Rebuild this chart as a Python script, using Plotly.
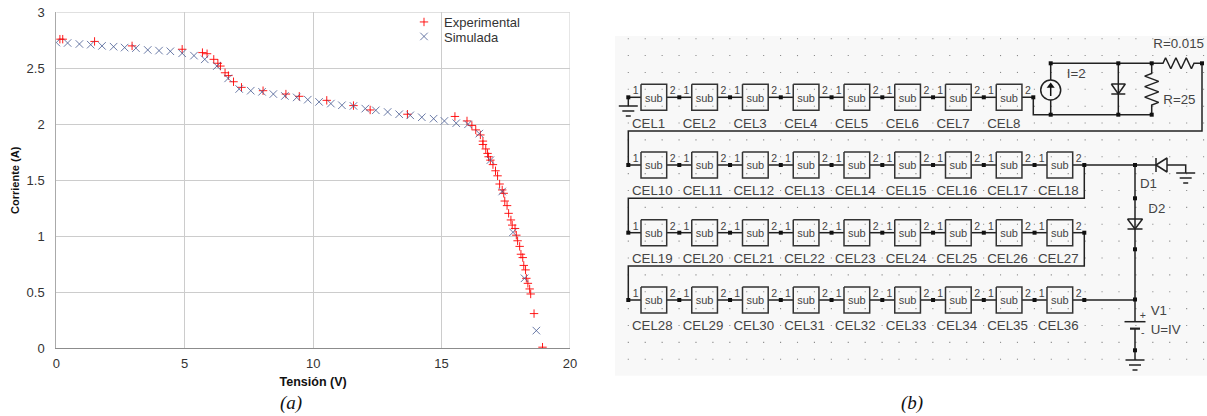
import plotly.graph_objects as go

W, H = 1207, 416

# ---------------- chart (a) data ----------------
exp_v = [0.14,0.25,1.49,2.95,4.90,5.69,5.87,6.13,6.29,6.39,6.57,6.70,6.90,7.21,8.05,8.94,9.46,
         10.53,11.57,12.22,13.67,15.52,15.99,16.18,16.33,16.51,16.61,16.61,16.72,16.79,16.83,16.90,
         17.00,17.10,17.18,17.26,17.36,17.42,17.46,17.55,17.61,17.70,17.75,17.86,17.91,17.96,18.04,
         18.09,18.16,18.20,18.27,18.30,18.36,18.43,18.47,18.60,18.93]
exp_i = [2.76,2.76,2.74,2.70,2.67,2.64,2.63,2.58,2.545,2.52,2.46,2.435,2.38,2.33,2.30,2.27,2.25,
         2.214,2.167,2.128,2.09,2.07,2.03,1.99,1.95,1.905,1.85,1.82,1.78,1.74,1.71,1.68,
         1.64,1.585,1.54,1.467,1.414,1.384,1.315,1.274,1.205,1.146,1.10,1.07,1.01,0.96,0.91,
         0.84,0.81,0.74,0.70,0.625,0.58,0.53,0.485,0.31,0.01]
sim_v = [0,0.44,0.90,1.34,1.78,2.23,2.66,3.10,3.56,4.00,4.44,4.90,5.36,5.78,6.25,6.69,7.12,7.57,8.01,8.45,8.90,
         9.36,9.79,10.23,10.69,11.12,11.57,12.03,12.44,12.90,13.35,13.78,14.23,14.69,15.11,15.57,16.03,16.47,
         16.90,17.36,17.78,18.23,18.69]
sim_i = [2.73,2.726,2.717,2.711,2.70,2.693,2.685,2.68,2.664,2.658,2.652,2.634,2.613,2.58,2.52,2.41,2.315,2.30,2.29,2.27,2.253,
         2.24,2.22,2.20,2.185,2.17,2.164,2.14,2.125,2.11,2.09,2.08,2.063,2.05,2.03,2.01,2.0,1.917,
         1.68,1.40,1.036,0.625,0.158]
x_ticks = [0, 5, 10, 15, 20]
y_ticks = [0, 0.5, 1, 1.5, 2, 2.5, 3]
y_labels = ["0", "0.5", "1", "1.5", "2", "2.5", "3"]

# ---------------- circuit (b) labels ----------------
row_cells = [list(range(1, 9)), list(range(10, 19)), list(range(19, 28)), list(range(28, 37))]

FONT = "Liberation Sans"
TXT = "#444444"

fig = go.Figure()

fig.add_trace(go.Scatter(x=exp_v, y=exp_i, mode="markers", name="Experimental", xaxis="x", yaxis="y", legend="legend",
    marker=dict(symbol="cross-thin", size=6, line=dict(color="rgba(255,0,0,0.9)", width=1)), hoverinfo="skip"))
fig.add_trace(go.Scatter(x=sim_v, y=sim_i, mode="markers", name="Simulada", xaxis="x", yaxis="y", legend="legend2",
    marker=dict(symbol="x-thin", size=7.5, line=dict(color="rgba(70,90,145,0.8)", width=1)), hoverinfo="skip"))

# ---------------- circuit geometry (diagram coordinates) ----------------
ROW_Y = [97.3, 165.0, 232.7, 300.0]
BOX_X0, BOX_DX, BOX_W, BOX_H = 641.0, 50.75, 25.7, 26.0
LEFT_X, END_X, MAIN_X = 628.3, 1084.3, 1135.0

wx, wy, nx, ny = [], [], [], []
def wire(*pts):
    for p in pts:
        wx.append(p[0]); wy.append(p[1])
    wx.append(None); wy.append(None)
def node(*pts):
    for p in pts:
        nx.append(p[0]); ny.append(p[1])
def ground(x, y, w=(9.5, 6, 2.5), dy=(0, 5, 10)):
    for a, b in zip(w, dy):
        wire((x - a, y + b), (x + a, y + b))
def zigzag_v(x, y0, y1, a, n=6):
    pts = [(x, y0)]
    step = (y1 - y0) / n
    for k in range(n):
        pts.append((x + (a if k % 2 else -a), y0 + step * (k + 0.5)))
    pts.append((x, y1))
    return pts
def zigzag_h(y, x0, x1, a, n=6):
    pts = [(x0, y)]
    step = (x1 - x0) / n
    for k in range(n):
        pts.append((x0 + step * (k + 0.5), y + (-a if k % 2 == 0 else a)))
    pts.append((x1, y))
    return pts

sub_x, sub_y, sub_t = [], [], []
pin_x, pin_y, pin_t = [], [], []
cel_x, cel_y, cel_t = [], [], []
bx, by = [], []
for r, cells in enumerate(row_cells):
    y = ROW_Y[r]
    wire((LEFT_X, y), (BOX_X0, y))
    node((LEFT_X, y))
    for k, c in enumerate(cells):
        x0 = BOX_X0 + k * BOX_DX
        x1 = x0 + BOX_W
        bx += [x0, x1, x1, x0, x0, None]
        by += [y - BOX_H/2, y - BOX_H/2, y + BOX_H/2, y + BOX_H/2, y - BOX_H/2, None]
        sub_x.append((x0 + x1) / 2); sub_y.append(y + 1.5); sub_t.append("sub")
        pin_x += [x0 - 5.3, x1 + 6]; pin_y += [y - 5.5, y - 5.5]; pin_t += ["1", "2"]
        cel_x.append(x0 - 9); cel_y.append(y + 27); cel_t.append(f"CEL{c}")
        if k < len(cells) - 1:
            wire((x1, y), (x1 + 25, y))
            node((x1 + 12.6, y))

# row 1 end and PV cell model
T, B = 63.3, 114.7
SRC_X, DIO_X, RES_X, OUT_X = 1050.7, 1118.3, 1151.7, 1202.0
row1_end = BOX_X0 + 7 * BOX_DX + BOX_W
wire((row1_end, ROW_Y[0]), (1033.3, ROW_Y[0]), (1033.3, B), (RES_X, B))
wire((SRC_X, T), (RES_X, T))
wire((SRC_X, T), (SRC_X, B))
wire((DIO_X, T), (DIO_X, B))
wire((DIO_X - 7, 84), (DIO_X + 7, 84), (DIO_X, 94), (DIO_X - 7, 84))
wire((DIO_X - 7, 94), (DIO_X + 7, 94))
wire(*zigzag_v(RES_X, T, 73.5, 0), *zigzag_v(RES_X, 73.5, 105, 7), (RES_X, B))
wire((RES_X, T), *zigzag_h(T, 1163, 1194, 5.5), (OUT_X, T), (OUT_X, 131), (LEFT_X, 131), (LEFT_X, ROW_Y[1]))
node((1033.3, ROW_Y[0]), (SRC_X, T), (DIO_X, T), (RES_X, T), (OUT_X, T), (SRC_X, B), (DIO_X, B), (RES_X, B))

# rows: tails and wraps
row_last = BOX_X0 + 8 * BOX_DX + BOX_W
for r in (1, 2, 3):
    wire((row_last, ROW_Y[r]), (END_X, ROW_Y[r]))
    node((END_X, ROW_Y[r]))
wire((END_X, ROW_Y[1]), (END_X, 198.3), (LEFT_X, 198.3), (LEFT_X, ROW_Y[2]))
wire((END_X, ROW_Y[2]), (END_X, 266), (LEFT_X, 266), (LEFT_X, ROW_Y[3]))
wire((END_X, ROW_Y[1]), (1156, ROW_Y[1]))
wire((END_X, ROW_Y[3]), (MAIN_X, ROW_Y[3]))

# D1 + ground
wire((1156, 158), (1156, 172))
wire((1156, 165), (1167, 158), (1167, 172), (1156, 165))
wire((1167, 165), (1185.7, 165), (1185.7, 173))
ground(1185.7, 173)
# main vertical with D2, battery, ground
wire((MAIN_X, 165), (MAIN_X, 321.7))
wire((MAIN_X - 7.5, 219), (MAIN_X + 7.5, 219), (MAIN_X, 229), (MAIN_X - 7.5, 219))
wire((MAIN_X - 7.5, 229), (MAIN_X + 7.5, 229))
wire((MAIN_X - 10.5, 321.7), (MAIN_X + 10.5, 321.7))
wire((MAIN_X - 5, 328.3), (MAIN_X + 5, 328.3))
wire((MAIN_X - 5, 329), (MAIN_X + 5, 329))
wire((MAIN_X, 328.3), (MAIN_X, 360))
ground(MAIN_X, 360)
node((MAIN_X, 165), (MAIN_X, 198.3), (MAIN_X, 249.3), (MAIN_X, 299.5), (MAIN_X, 350.3))
# left ground on row 1
wire((LEFT_X, ROW_Y[0]), (LEFT_X, 106))
ground(LEFT_X, 106)

# grid dots of the schematic
dx = [628.3 + 16.92 * i for i in range(35) for j in range(20)]
dy = [38.7 + 16.87 * j for i in range(35) for j in range(20)]

AX2 = dict(xaxis="x2", yaxis="y2", hoverinfo="skip", showlegend=False)
fig.add_trace(go.Scatter(x=dx, y=dy, mode="markers", marker=dict(symbol="square", size=1.1, color="#8a8a8a"), **AX2))
fig.add_trace(go.Scatter(x=wx, y=wy, mode="lines", line=dict(color="#222222", width=1.5), **AX2))
fig.add_trace(go.Scatter(x=bx, y=by, mode="lines", line=dict(color="#333333", width=1.5), **AX2))
fig.add_trace(go.Scatter(x=nx, y=ny, mode="markers", marker=dict(symbol="square", size=4, color="#111111"), **AX2))
# current source
fig.add_trace(go.Scatter(x=[SRC_X], y=[90], mode="markers",
    marker=dict(symbol="circle", size=20, color="#f8f8f8", line=dict(color="#222222", width=1.5)), **AX2))
fig.add_trace(go.Scatter(x=[SRC_X, SRC_X, None], y=[85, 96, None], mode="lines", line=dict(color="#111111", width=1.5), **AX2))
fig.add_trace(go.Scatter(x=[SRC_X], y=[86], mode="markers", marker=dict(symbol="triangle-up", size=7, color="#111111"), **AX2))

def texts(xs, ys, ts, size, pos="middle center"):
    fig.add_trace(go.Scatter(x=xs, y=ys, text=ts, mode="text", textposition=pos,
        textfont=dict(family=FONT, size=size, color=TXT), **AX2))
texts(sub_x, sub_y, sub_t, 11)
texts(pin_x, pin_y, pin_t, 10.5)
texts(cel_x, cel_y, cel_t, 13.3, "middle right")
texts([1066.7, 1153.3, 1163.3, 1140, 1148.3, 1150.7, 1150.7],
      [75, 45, 100.7, 185, 210, 311.7, 330.7],
      ["I=2", "R=0.015", "R=25", "D1", "D2", "V1", "U=IV"], 13.3, "middle right")
texts([1142.7, 1142.7], [316, 333], ["+", "-"], 10.5)

LEG = dict(xanchor="left", yanchor="middle", bgcolor="rgba(0,0,0,0)",
           font=dict(family=FONT, size=13, color="#333333"), itemclick=False, itemdoubleclick=False)
fig.update_layout(
    width=W, height=H, margin=dict(l=0, r=0, t=0, b=0, pad=0, autoexpand=False),
    paper_bgcolor="white", plot_bgcolor="rgba(0,0,0,0)",
    font=dict(family=FONT, size=13, color="#333333"),
    legend=dict(x=404/W, y=1-22/H, **LEG),
    legend2=dict(x=404/W, y=1-36.5/H, **LEG),
    xaxis=dict(domain=[56.3/W, 570/W], range=[0, 20], tickvals=x_ticks, showgrid=True, gridcolor="#cccccc",
               gridwidth=1, zeroline=False, showline=True, linecolor="#8c8c8c", linewidth=1, ticks="",
               ticklabelstandoff=3, anchor="y", fixedrange=True,
               title=dict(text="<b>Tensión (V)</b>", font=dict(family=FONT, size=12.5, color="#111111"), standoff=7)),
    yaxis=dict(domain=[1-348.3/H, 1-12.3/H], range=[0, 3], tickvals=y_ticks, ticktext=y_labels, showgrid=True,
               gridcolor="#cccccc", gridwidth=1, zeroline=False, showline=True, linecolor="#aaaaaa", linewidth=1,
               ticks="", ticklabelstandoff=8, anchor="x", fixedrange=True,
               title=dict(text="<b>Corriente (A)</b>", font=dict(family=FONT, size=11, color="#111111"), standoff=4)),
    xaxis2=dict(domain=[0, 1], range=[0, W], visible=False, anchor="y2", fixedrange=True),
    yaxis2=dict(domain=[0, 1], range=[H, 0], visible=False, anchor="x2", fixedrange=True),
    shapes=[
        dict(type="rect", xref="x2", yref="y2", x0=615, x1=W, y0=36, y1=375.7, fillcolor="#f8f8f8",
             line=dict(width=0), layer="below"),
        dict(type="line", xref="x", yref="y", x0=20, x1=20, y0=0, y1=3, line=dict(color="#cccccc", width=1), layer="below"),
        dict(type="line", xref="x", yref="y", x0=0, x1=20, y0=3, y1=3, line=dict(color="#cccccc", width=1), layer="below"),
    ],
    annotations=[
        dict(xref="x2", yref="y2", x=291, y=403, text="<i>(a)</i>", showarrow=False,
             font=dict(family="Liberation Serif", size=19, color="#111111")),
        dict(xref="x2", yref="y2", x=912, y=403, text="<i>(b)</i>", showarrow=False,
             font=dict(family="Liberation Serif", size=19, color="#111111")),
    ],
)
fig.write_html("out.html", post_script="document.body.style.margin='0';", config={"displayModeBar": False})
